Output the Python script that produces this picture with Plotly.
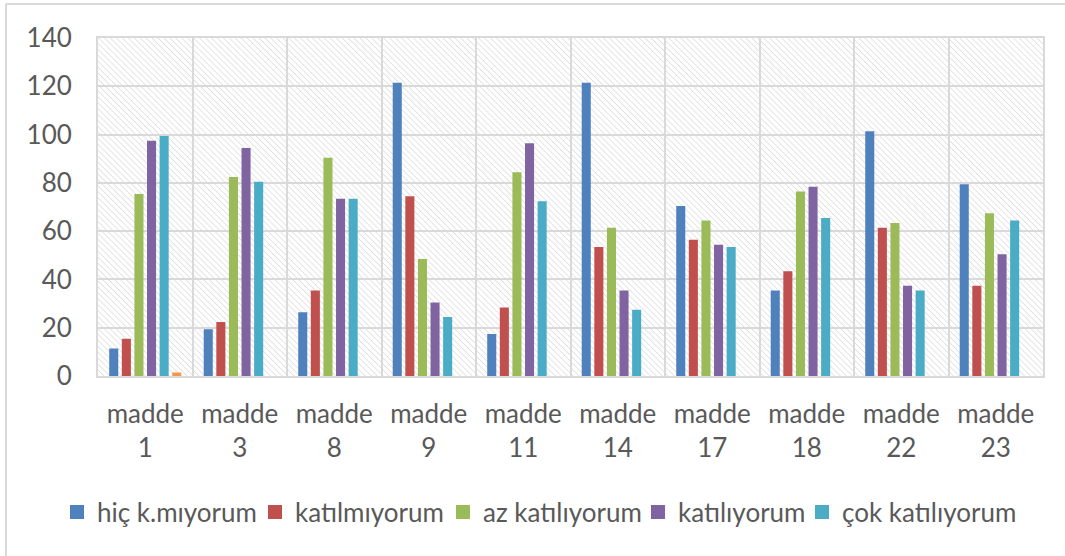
import base64
import plotly.graph_objects as go

categories = ["madde<br>1", "madde<br>3", "madde<br>8", "madde<br>9", "madde<br>11",
              "madde<br>14", "madde<br>17", "madde<br>18", "madde<br>22", "madde<br>23"]

hic_k_miyorum = [11, 19, 26, 121, 17, 121, 70, 35, 101, 79]
katilmiyorum = [15, 22, 35, 74, 28, 53, 56, 43, 61, 37]
az_katiliyorum = [75, 82, 90, 48, 84, 61, 64, 76, 63, 67]
katiliyorum = [97, 94, 73, 30, 96, 35, 54, 78, 37, 50]
cok_katiliyorum = [99, 80, 73, 24, 72, 27, 53, 65, 35, 64]
extra_series = [1, None, None, None, None, None, None, None, None, None]

series_names = ["hiç k.mıyorum", "katılmıyorum", "az katılıyorum", "katılıyorum", "çok katılıyorum"]
series_values = [hic_k_miyorum, katilmiyorum, az_katiliyorum, katiliyorum, cok_katiliyorum]
colors = ["#4F81BD", "#C0504D", "#9BBB59", "#8064A2", "#4BACC6"]
extra_color = "#F79646"

y_ticks = [0, 20, 40, 60, 80, 100, 120, 140]

FONT = "Lato"
TXT = "#595959"
GRID = "#d9d9d9"
FS = 26

W, H = 1065, 556
L, R, T, B = 98, 22, 38, 180
pw, ph = W - L - R, H - T - B

def px(x):
    return (x - L) / pw

def py(y):
    return (H - B - y) / ph

legend_ids = ["legend", "legend2", "legend3", "legend4", "legend5"]
legend_text_x = [97, 295, 483, 678, 842]

fig = go.Figure()
for name, vals, col, lid in zip(series_names, series_values, colors, legend_ids):
    fig.add_trace(go.Bar(x=categories, y=vals, name=name, legend=lid,
                         marker=dict(color=col, line=dict(color=col, width=2))))
fig.add_trace(go.Bar(x=categories, y=extra_series, name="", marker=dict(color=extra_color,
                     line=dict(color=extra_color, width=2)), showlegend=False))

# hatched plot-area background
svg = ('<svg xmlns="http://www.w3.org/2000/svg" width="945" height="338" '
       'preserveAspectRatio="none"><defs><pattern id="p" width="4.2" height="4.2" '
       'patternUnits="userSpaceOnUse" patternTransform="rotate(-45)">'
       '<line x1="0" y1="0" x2="0" y2="4.2" stroke="#d4d4d4" stroke-width="1.2"/>'
       '</pattern></defs><rect width="100%" height="100%" fill="url(#p)"/></svg>')
src = "data:image/svg+xml;base64," + base64.b64encode(svg.encode()).decode()

legends = {}
for lid, tx in zip(legend_ids, legend_text_x):
    legends[lid] = dict(orientation="h", xref="container", yref="container",
                        x=(tx - 40) / W, xanchor="left", y=1 - 512 / H, yanchor="middle",
                        font=dict(family=FONT, size=FS, color=TXT), itemwidth=30,
                        bgcolor="rgba(0,0,0,0)", borderwidth=0)

fig.update_layout(
    width=W, height=H,
    margin=dict(l=L, r=R, t=T, b=B, autoexpand=False),
    paper_bgcolor="white",
    plot_bgcolor="white",
    font=dict(family=FONT, size=FS, color=TXT),
    barmode="group",
    bargap=0.2,
    bargroupgap=0.44,
    showlegend=True,
    images=[dict(source=src, xref="paper", yref="paper", x=0, y=1, sizex=1, sizey=1,
                 sizing="stretch", layer="below", xanchor="left", yanchor="top")],
    shapes=[
        dict(type="line", xref="paper", yref="paper", x0=px(6), x1=px(6), y0=py(4), y1=py(556),
             line=dict(color=GRID, width=2)),
        dict(type="line", xref="paper", yref="paper", x0=px(6), x1=px(1065), y0=py(4), y1=py(4),
             line=dict(color=GRID, width=2)),
    ],
    **legends,
)

fig.update_xaxes(
    type="category",
    tickson="boundaries",
    showgrid=True, gridcolor=GRID, gridwidth=2,
    showline=True, linecolor=GRID, linewidth=2, mirror=True,
    ticks="", ticklabelstandoff=14, automargin=False,
    tickfont=dict(family=FONT, size=FS, color=TXT),
)
fig.update_yaxes(
    range=[0, 140], tickvals=y_ticks,
    showgrid=True, gridcolor=GRID, gridwidth=2,
    zeroline=False,
    showline=True, linecolor=GRID, linewidth=2, mirror=True,
    ticks="", ticklabelstandoff=19, automargin=False,
    tickfont=dict(family=FONT, size=FS, color=TXT),
)

fig.write_html("out.html", config={"displayModeBar": False},
               post_script="document.body.style.margin='0';")
